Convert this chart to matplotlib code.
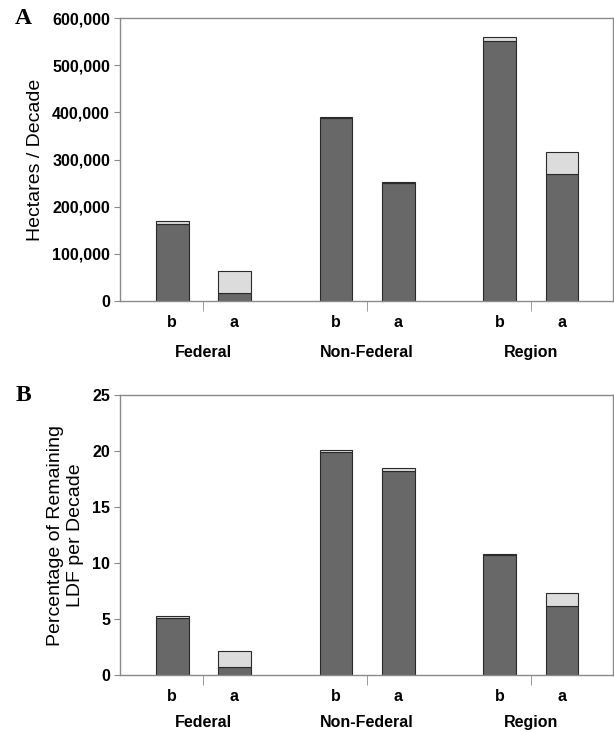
import matplotlib.pyplot as plt
from matplotlib.ticker import FuncFormatter
import numpy as np

groups = ["Federal", "Non-Federal", "Region"]
periods = ["b", "a"]

# panel A: hectares per decade (dark = lower part, light = upper part)
ha_dark = [163000, 17700, 388000, 250000, 552500, 269000]
ha_light = [7000, 46000, 2000, 2500, 8500, 47500]

# panel B: percentage of remaining LDF per decade
pct_dark = [5.05, 0.7, 19.95, 18.25, 10.7, 6.15]
pct_light = [0.2, 1.45, 0.12, 0.25, 0.1, 1.2]

DARK = "#686868"
LIGHT = "#dcdcdc"
EDGE = "#2a2a2a"
FRAME = "#8a8a8a"

plt.rcParams["font.family"] = ["Liberation Sans", "DejaVu Sans"]

fig = plt.figure(figsize=(6.14, 7.32), dpi=100)
ax_a = fig.add_axes([0.195, 0.589, 0.803, 0.386])
ax_b = fig.add_axes([0.195, 0.078, 0.803, 0.382])

offset = 0.19
pos = []
for g in range(len(groups)):
    pos += [g - offset, g + offset]
pos = np.array(pos)


def draw_panel(ax, dark, light, ymax, ystep, fmt, ylabel, letter, grp_off):
    ax.bar(pos, dark, width=0.2, color=DARK, edgecolor=EDGE, linewidth=0.8, zorder=2)
    ax.bar(pos, light, width=0.2, bottom=dark, color=LIGHT, edgecolor=EDGE,
           linewidth=0.8, zorder=2)
    ax.set_xlim(-0.51, 2.5)
    ax.set_ylim(0, ymax)
    ax.set_yticks(np.arange(0, ymax + ystep / 2, ystep))
    ax.yaxis.set_major_formatter(FuncFormatter(fmt))
    for lab in ax.get_yticklabels():
        lab.set_fontweight("bold")
    ax.tick_params(axis="y", labelsize=11.5, length=4, color=FRAME, pad=3)
    ax.set_xticks(pos)
    ax.set_xticklabels(periods * len(groups), fontweight="bold", fontsize=11.5)
    ax.tick_params(axis="x", which="major", length=0, pad=10)
    ax.set_xticks(range(len(groups)), minor=True)
    ax.tick_params(axis="x", which="minor", length=7, color=FRAME, direction="out")
    for s in ax.spines.values():
        s.set_color(FRAME)
        s.set_linewidth(1.0)
    for g, name in enumerate(groups):
        ax.annotate(name, xy=(g, 0), xycoords=("data", "axes fraction"),
                    xytext=(0, -grp_off), textcoords="offset points",
                    ha="center", va="center", fontsize=11.5, fontweight="bold")
    ax.set_ylabel(ylabel, fontsize=14, labelpad=6)
    ax.text(-0.212, 1.0, letter, transform=ax.transAxes, ha="left", va="center",
            fontsize=17, fontweight="bold", family="Liberation Serif")


draw_panel(ax_a, ha_dark, ha_light, 600000, 100000,
           lambda v, p: f"{int(v):,}", "Hectares / Decade", "A", 37)
draw_panel(ax_b, pct_dark, pct_light, 25, 5,
           lambda v, p: f"{int(v)}", "Percentage of Remaining\nLDF per Decade", "B", 34)

fig.savefig("out.png", dpi=100)
